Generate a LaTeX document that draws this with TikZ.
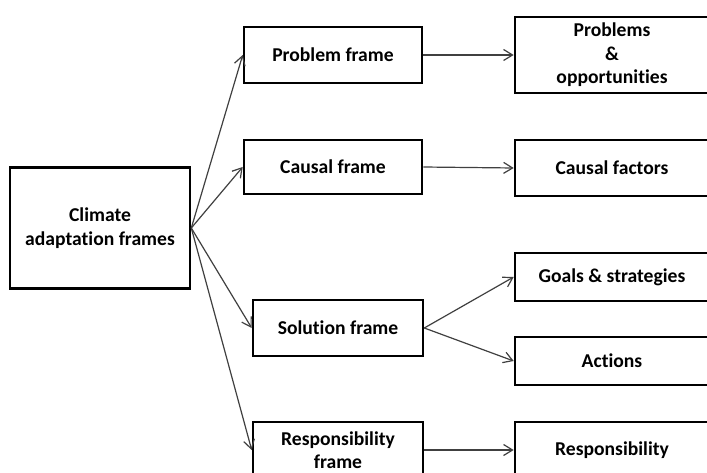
\documentclass[tikz,border=0pt]{standalone}
\usepackage{fontspec}
\setmainfont{Carlito}[Ligatures=NoCommon]
\usetikzlibrary{arrows.meta}
\begin{document}
\begin{tikzpicture}[x=1pt,y=-1pt,
  box/.style={draw=black,line width=2.6pt,fill=white,inner sep=0pt,align=center,
    font=\fontsize{19.6}{23.5}\selectfont\bfseries},
  link/.style={draw=black!75,line width=1.2pt,
    -{Straight Barb[length=9pt,width=11pt,line width=1.2pt]}}]
\clip (0,0) rectangle (707,473);
\fill[white] (0,0) rectangle (707,473);
% source box
\node[box,minimum width=180,minimum height=121] (main) at (100,228) {Climate\\adaptation frames};
% frames
\node[box,minimum width=178,minimum height=56] (pf) at (333,55) {Problem frame};
\node[box,minimum width=178,minimum height=54] (cf) at (333,167) {Causal frame};
\node[box,minimum width=170,minimum height=56] (sf) at (338,328) {Solution frame};
\node[box,minimum width=170,minimum height=56] (rf) at (338,450) {Responsibility\\frame};
% outcomes
\node[box,minimum width=194,minimum height=76] (po) at (612,55) {Problems\\\&\\opportunities};
\node[box,minimum width=194,minimum height=56] (cfac) at (612,168) {Causal factors};
\node[box,minimum width=194,minimum height=48] (gs) at (612,277) {Goals \& strategies};
\node[box,minimum width=194,minimum height=48] (act) at (612,361) {Actions};
\node[box,minimum width=194,minimum height=56] (resp) at (612,450) {Responsibility};
% connectors
\draw[link] (main.east) -- (pf.west);
\draw[link] (main.east) -- (cf.west);
\draw[link] (main.east) -- (sf.west);
\draw[link] (main.east) -- (rf.west);
\draw[link] (pf.east) -- (po.west);
\draw[link] (cf.east) -- (cfac.west);
\draw[link] (sf.east) -- (gs.west);
\draw[link] (sf.east) -- (act.west);
\draw[link] (rf.east) -- (resp.west);
\end{tikzpicture}
\end{document}
